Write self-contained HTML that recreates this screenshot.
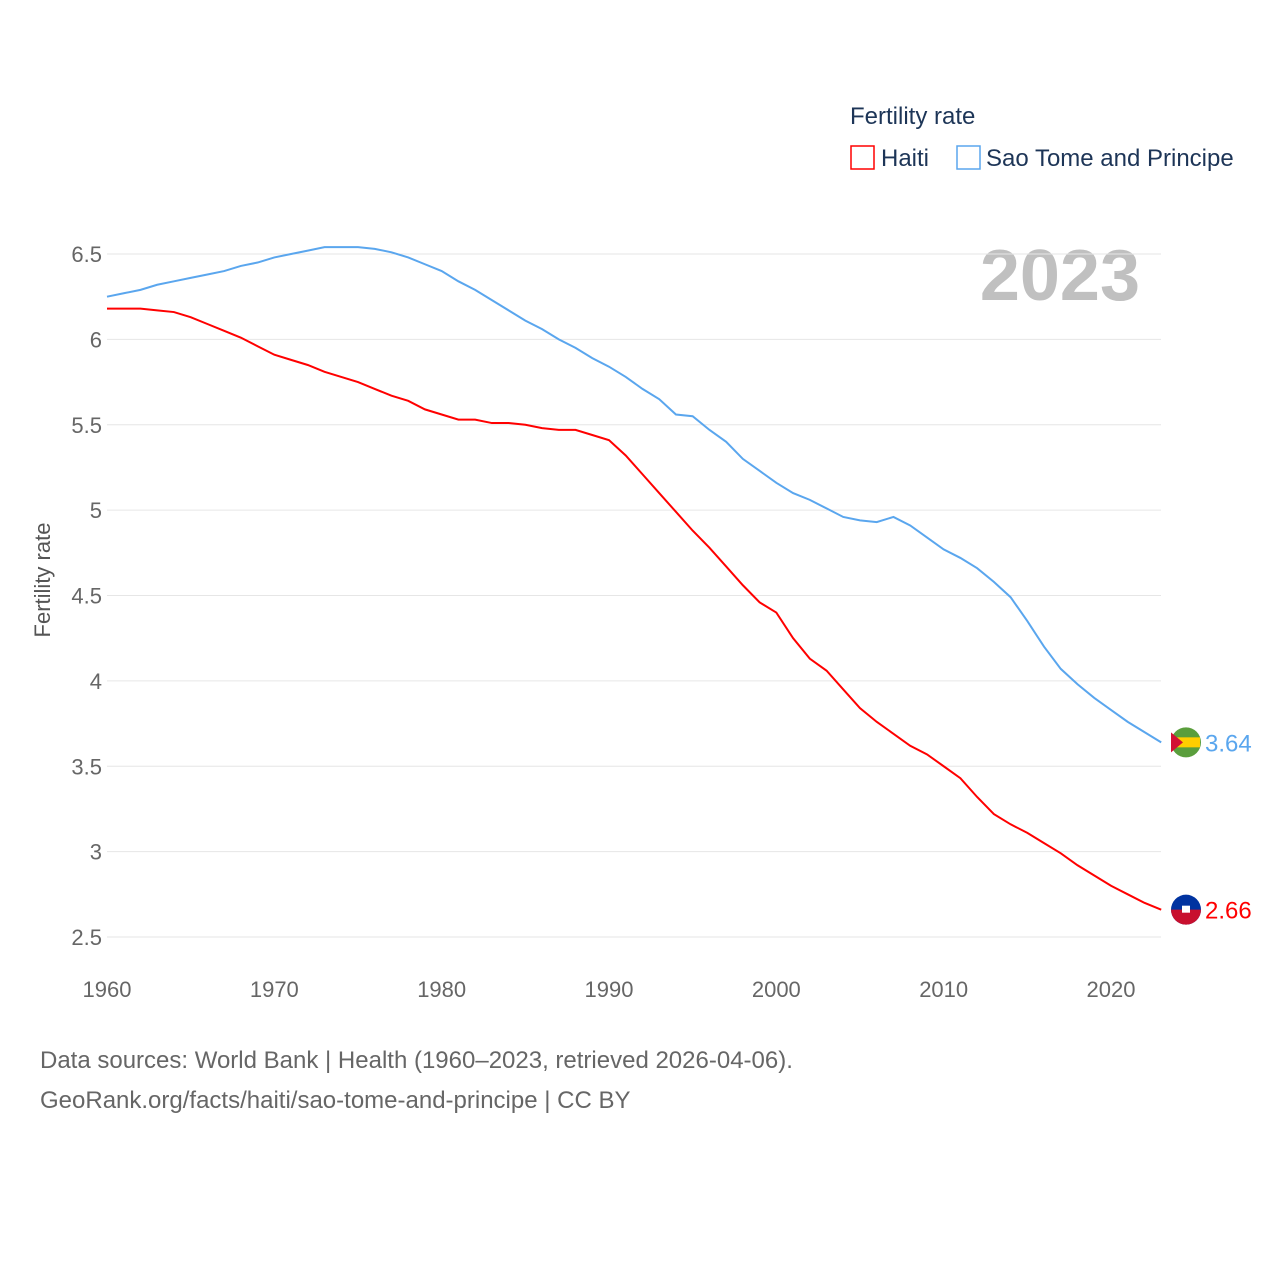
<!DOCTYPE html>
<html><head><meta charset="utf-8"><style>
body{margin:0;background:#fff;font-family:"Liberation Sans",sans-serif}
svg text{font-family:"Liberation Sans",sans-serif}
</style></head><body>
<svg width="1280" height="1280" id="chart">
<text x="850" y="124" font-size="24" fill="#1d3557">Fertility rate</text>
<g><rect x="851" y="146" width="23" height="23" fill="none" stroke="#f00" stroke-width="1.5"/><text x="881" y="166" font-size="24" fill="#1d3557">Haiti</text></g>
<g><rect x="957" y="146" width="23" height="23" fill="none" stroke="#5aa6ee" stroke-width="1.5"/><text x="986" y="166" font-size="24" fill="#1d3557">Sao Tome and Principe</text></g>
<text x="1140" y="300" font-size="72" font-weight="bold" fill="#c0c0c0" text-anchor="end">2023</text>
<g id="grid"></g><g id="lines"></g><g id="ends"></g>
<text transform="translate(50,580) rotate(-90)" font-size="22" fill="#555" text-anchor="middle">Fertility rate</text>
<text x="40" y="1068" font-size="24" fill="#666">Data sources: World Bank | Health (1960–2023, retrieved 2026-04-06).</text>
<text x="40" y="1108" font-size="24" fill="#666">GeoRank.org/facts/haiti/sao-tome-and-principe | CC BY</text>
</svg>
<script>
const years=[];for(let y=1960;y<=2023;y++)years.push(y);
const haiti=[6.18,6.18,6.18,6.17,6.16,6.13,6.09,6.05,6.01,5.96,5.91,5.88,5.85,5.81,5.78,5.75,5.71,5.67,5.64,5.59,5.56,5.53,5.53,5.51,5.51,5.50,5.48,5.47,5.47,5.44,5.41,5.32,5.21,5.10,4.99,4.88,4.78,4.67,4.56,4.46,4.40,4.25,4.13,4.06,3.95,3.84,3.76,3.69,3.62,3.57,3.50,3.43,3.32,3.22,3.16,3.11,3.05,2.99,2.92,2.86,2.80,2.75,2.70,2.66];
const stp=[6.25,6.27,6.29,6.32,6.34,6.36,6.38,6.40,6.43,6.45,6.48,6.50,6.52,6.54,6.54,6.54,6.53,6.51,6.48,6.44,6.40,6.34,6.29,6.23,6.17,6.11,6.06,6.00,5.95,5.89,5.84,5.78,5.71,5.65,5.56,5.55,5.47,5.40,5.30,5.23,5.16,5.10,5.06,5.01,4.96,4.94,4.93,4.96,4.91,4.84,4.77,4.72,4.66,4.58,4.49,4.35,4.20,4.07,3.98,3.90,3.83,3.76,3.70,3.64];
const yTicks=[2.5,3,3.5,4,4.5,5,5.5,6,6.5];
const xTicks=[1960,1970,1980,1990,2000,2010,2020];
const X=y=>107+(y-1960)*1004/60, Y=v=>254+(6.5-v)*170.75;
const NS="http://www.w3.org/2000/svg";
function mk(t,a,p){const e=document.createElementNS(NS,t);for(const k in a)e.setAttribute(k,a[k]);p.appendChild(e);return e}
const g=document.getElementById('grid');
yTicks.forEach(v=>{
 const l=mk('line',{x1:107,x2:1161,y1:Y(v),y2:Y(v),stroke:'#e6e6e6','stroke-width':1},g);
 
 
 const t=mk('text',{x:102,y:Y(v)+8,'font-size':22,fill:'#666','text-anchor':'end'},g);t.textContent=v;
 
 
});
xTicks.forEach(v=>{
 const t=mk('text',{x:X(v),y:997,'font-size':22,fill:'#666','text-anchor':'middle'},g);t.textContent=v;
 
 
});
const L=document.getElementById('lines');
[[stp,'#5aa6ee','line-sao-tome'],[haiti,'#f00','line-haiti']].forEach(([d,c,n])=>{
 const p=mk('polyline',{points:d.map((v,i)=>X(years[i])+','+Y(v)).join(' '),fill:'none',stroke:c,'stroke-width':2},L);
 
 
});
const E=document.getElementById('ends');
const last=years.length-1;
[[stp[last],'#5aa6ee','end-label-sao-tome','#5a9e3c'],[haiti[last],'#f00','end-label-haiti','#0033a0']].forEach(([v,c,n,fc])=>{
 const cy=Y(v),cx=1186;
 const f=mk('g',{},E);
 
 
 mk('circle',{cx:cx,cy:cy,r:15,fill:fc},f);
 if(n.includes('haiti')){mk('path',{d:`M${cx-15},${cy} A15,15 0 0 0 ${cx+15},${cy} Z`,fill:'#c8102e'},f);mk('rect',{x:cx-4,y:cy-4,width:8,height:7,fill:'#fff'},f);}
 else{mk('rect',{x:cx-14,y:cy-5,width:28,height:10,fill:'#ffce00'},f);mk('path',{d:`M${cx-15},${cy-10} L${cx-3},${cy} L${cx-15},${cy+10}Z`,fill:'#d21034'},f);}
 const t=mk('text',{x:1205,y:cy+9,'font-size':24,fill:c},E);t.textContent=v.toFixed(2);
 
 
});
</script>
</body></html>
